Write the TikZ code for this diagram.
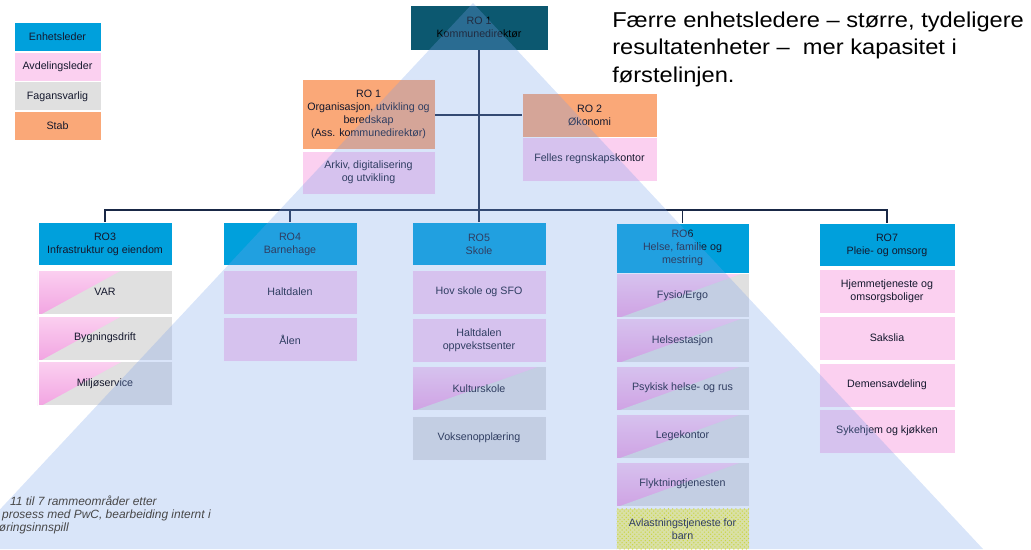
\documentclass[tikz,border=0pt]{standalone}
\usepackage{fontspec}
\setmainfont{Liberation Sans}
\newfontfamily\widesans[FakeStretch=1.1]{Liberation Sans}
\definecolor{enhetblue}{RGB}{0, 160, 220}
\definecolor{avdpink}{RGB}{251, 208, 240}
\definecolor{avddeep}{RGB}{242, 165, 226}
\definecolor{faggray}{RGB}{224, 224, 224}
\definecolor{staborange}{RGB}{250, 168, 120}
\definecolor{dirteal}{RGB}{12, 88, 112}
\definecolor{linenavy}{RGB}{25, 40, 70}
\definecolor{pyrblue}{RGB}{120, 160, 235}
\definecolor{boxtext}{RGB}{20, 24, 45}
\definecolor{dotyellow}{RGB}{235, 235, 0}
\usetikzlibrary{positioning, calc, patterns}

\begin{document}
\begin{tikzpicture}[x=0.25mm, y=-0.25mm,
  font=\fontsize{7.6}{9.2}\selectfont,
  box/.style={draw=white, line width=0.6pt, align=center, inner sep=1pt, text=boxtext,
    minimum width=33.5mm, minimum height=11mm},
  ebox/.style={box, fill=enhetblue, minimum height=10.75mm},
  abox/.style={box, fill=avdpink},
  fbox/.style={box, fill=faggray},
  sbox/.style={box, fill=staborange},
  mixbox/.style 2 args={box, fill=avdpink, path picture={
    \fill[top color=avdpink, bottom color=avddeep]
      (path picture bounding box.south west) rectangle (path picture bounding box.north east);
    \fill[faggray]
      ($(path picture bounding box.north west)!#2!(path picture bounding box.north east)$)
      -- (path picture bounding box.north east) -- (path picture bounding box.south east)
      -- ($(path picture bounding box.south west)!#1!(path picture bounding box.south east)$) -- cycle;}},
  legbox/.style={box, minimum width=21.75mm, minimum height=7.2mm},
  lnk/.style={draw=linenavy, line width=1.3pt},
  note/.style={font=\fontsize{8.5}{10.3}\selectfont\itshape, text=black!72, inner sep=0pt}
]
  \useasboundingbox (0,0) rectangle (1031,549);

  % legend
  \node[legbox, fill=enhetblue] (legE) at (57.5,37) {Enhetsleder};
  \node[legbox, fill=avdpink, below=0pt of legE] (legA) {Avdelingsleder};
  \node[legbox, fill=faggray, below=0pt of legA] (legF) {Fagansvarlig};
  \node[legbox, fill=staborange, below=0pt of legF] (legS) {Stab};

  % top level and staff
  \node[box, fill=dirteal, text=black, minimum width=34.5mm, minimum height=11.25mm] (dir) at (479,27.5) {RO 1\\Kommunedirektør};
  \node[sbox, minimum width=33.25mm, minimum height=17.5mm] (orgstab) at (368.5,114) {RO 1\\Organisasjon, utvikling og\\beredskap\\(Ass. kommunedirektør)};
  \node[abox, minimum width=33.25mm, minimum height=10.75mm] (arkiv) at (368.5,172.5) {Arkiv, digitalisering\\og utvikling};
  \node[sbox, minimum width=33.75mm] (okonomi) at (589.5,115) {RO 2\\Økonomi};
  \node[abox, minimum width=33.75mm] (regnskap) at (589.5,159) {Felles regnskapskontor};

  % units
  \node[ebox] (ro3) at (105,244) {RO3\\Infrastruktur og eiendom};
  \node[mixbox={0.03}{0.63}] (var) at (105,292) {VAR};
  \node[mixbox={0.03}{0.63}] (bygg) at (105,338) {Bygningsdrift};
  \node[mixbox={0.03}{0.63}] (miljo) at (105,383.5) {Miljøservice};

  \node[ebox] (ro4) at (290,244) {RO4\\Barnehage};
  \node[abox] (bhhalt) at (290,292) {Haltdalen};
  \node[abox] (bhalen) at (290,339.5) {Ålen};

  \node[ebox] (ro5) at (479,244) {RO5\\Skole};
  \node[abox] (hov) at (479,292) {Hov skole og SFO};
  \node[abox] (oppvekst) at (479,340) {Haltdalen\\oppvekstsenter};
  \node[mixbox={0.02}{0.95}] (kultur) at (479,388.5) {Kulturskole};
  \node[fbox] (voksen) at (479,438) {Voksenopplæring};

  \node[ebox, minimum width=33.25mm, minimum height=12.5mm] (ro6) at (682.5,248) {RO6\\Helse, familie og\\mestring};
  \node[mixbox={0.03}{0.95}, minimum width=33.25mm] (fysio) at (682.5,295.5) {Fysio/Ergo};
  \node[mixbox={0.03}{0.95}, minimum width=33.25mm] (helsest) at (682.5,340.5) {Helsestasjon};
  \node[mixbox={0.03}{0.95}, minimum width=33.25mm] (psyk) at (682.5,388) {Psykisk helse- og rus};
  \node[mixbox={0.03}{0.95}, minimum width=33.25mm] (lege) at (682.5,436) {Legekontor};
  \node[mixbox={0.03}{0.95}, minimum width=33.25mm] (flykt) at (682.5,484) {Flyktningtjenesten};
  \node[box, fill=yellow!45!white, postaction={pattern=crosshatch dots, pattern color=dotyellow},
    minimum width=33.25mm, minimum height=10.25mm] (avlast) at (682.5,529) {Avlastningstjeneste for\\barn};

  \node[ebox, minimum width=34mm] (ro7) at (887,245) {RO7\\Pleie- og omsorg};
  \node[abox, minimum width=34mm] (hjemme) at (887,291.5) {Hjemmetjeneste og\\omsorgsboliger};
  \node[abox, minimum width=34mm] (sakslia) at (887,338) {Sakslia};
  \node[abox, minimum width=34mm] (demens) at (887,385) {Demensavdeling};
  \node[abox, minimum width=34mm] (sykehjem) at (887,431) {Sykehjem og kjøkken};

  % lines
  \coordinate (bus) at (479,210);
  \draw[lnk] (dir.south) -- (bus);
  \draw[lnk] (okonomi.west) -- (okonomi.west -| orgstab.east);
  \draw[lnk] (ro3.north) |- (bus) -| (ro7.north);
  \draw[lnk] (ro4.north) -- (ro4.north |- bus);
  \draw[lnk] (ro5.north) -- (bus);
  \draw[lnk] (ro6.north) -- (ro6.north |- bus);

  % pyramid
  \fill[pyrblue, fill opacity=0.28] (473,3) -- (983,549) -- (-37,549) -- cycle;

  % texts
  \node[anchor=north west, align=left, inner sep=0pt, font=\widesans\fontsize{15.3}{19.5}\selectfont] (msg) at (612,11.5)
    {Færre enhetsledere – større, tydeligere\\resultatenheter – \ mer kapasitet i\\førstelinjen.};
  \node[note, anchor=base east] (note1) at (157,505) {11 til 7 rammeområder etter};
  \node[note, anchor=base east] (note2) at (211,518) {prosess med PwC, bearbeiding internt i};
  \node[note, anchor=base east] (note3) at (69,531) {høringsinnspill};
\end{tikzpicture}
\end{document}
